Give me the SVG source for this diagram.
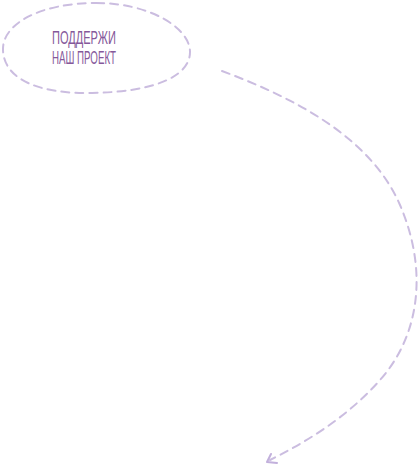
<svg xmlns="http://www.w3.org/2000/svg" width="419" height="467" viewBox="0 0 419 467">
<style>
.dash{fill:none;stroke:#cbbde0;stroke-width:2;stroke-dasharray:8 6;stroke-linecap:round}
.arrow{fill:none;stroke:#c2b0dc;stroke-width:2;stroke-linecap:round;stroke-linejoin:round}
.lbl{font-family:"Liberation Sans",Arial,sans-serif;font-size:19px;fill:#85589a}
</style>
<rect width="419" height="467" fill="#ffffff"/>
<g id="node-support">
<path class="dash" d="M 96,3 C 150,3 190,28 190,52 C 190,78 150,92 92,93 C 40,94 4,80 3,50 C 2,24 40,3 96,3 Z"/>
<text class="lbl" x="52" y="44" textLength="64" lengthAdjust="spacingAndGlyphs">ПОДДЕРЖИ</text>
<text class="lbl" x="52" y="64" textLength="64" lengthAdjust="spacingAndGlyphs">НАШ ПРОЕКТ</text>
</g>
<g id="connectors">
<path class="dash" d="M 222,71 C 300,100 372,140 400,205 C 428,270 420,335 380,380 C 345,420 300,445 270,460"/>
<path class="arrow" d="M 271,454 L 267,462 L 277,463"/>
</g>
</svg>
